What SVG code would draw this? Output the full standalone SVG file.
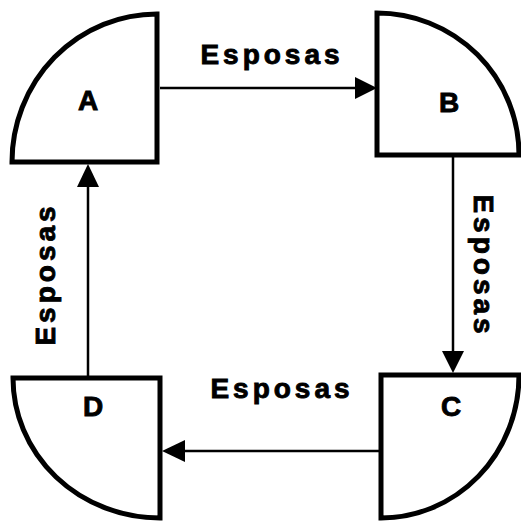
<svg xmlns="http://www.w3.org/2000/svg" width="521" height="521" viewBox="0 0 521 521">
<style>
.node{fill:#fff;stroke:#000;stroke-width:5;stroke-linejoin:miter}
.lbl{font-family:"Liberation Sans",Arial,Helvetica,sans-serif;font-weight:bold;font-size:28px;fill:#000;stroke:#000;stroke-width:0.9;text-anchor:middle}
.edge{font-family:"Liberation Sans",Arial,Helvetica,sans-serif;font-weight:bold;font-size:28px;fill:#000;stroke:#000;stroke-width:0.9;text-anchor:middle;letter-spacing:4px}
.conn line{stroke:#000;stroke-width:2.5}
.conn polygon{fill:#000}
</style>
<rect width="521" height="521" fill="#fff"/>
<g id="A"><path class="node" d="M157,162 H12 A145,148 0 0 1 157,14 Z"/><text class="lbl" x="88" y="110">A</text></g>
<g id="B"><path class="node" d="M377,155 V13 A142,142 0 0 1 519,155 Z"/><text class="lbl" x="449" y="112">B</text></g>
<g id="C"><path class="node" d="M381,375 H519 A138,143 0 0 1 381,518 Z"/><text class="lbl" x="451" y="416">C</text></g>
<g id="D"><path class="node" d="M160,378 V518 A147,140 0 0 1 13,378 Z"/><text class="lbl" x="93" y="416">D</text></g>
<g id="connectors" class="conn">
<line x1="160" y1="88" x2="358" y2="88"/><polygon points="377,88 355,77 355,99"/>
<line x1="453" y1="157" x2="453" y2="353"/><polygon points="453,373 442,351 464,351"/>
<line x1="379" y1="451" x2="182" y2="451"/><polygon points="162,451 185,440 185,462"/>
<line x1="88" y1="376" x2="88" y2="184"/><polygon points="88,164 77,187 99,187"/>
<text class="edge" x="272" y="64">Esposas</text>
<text class="edge" transform="translate(474,266) rotate(90)">Esposas</text>
<text class="edge" x="282" y="398">Esposas</text>
<text class="edge" transform="translate(55,274) rotate(-90)">Esposas</text>
</g>
</svg>
